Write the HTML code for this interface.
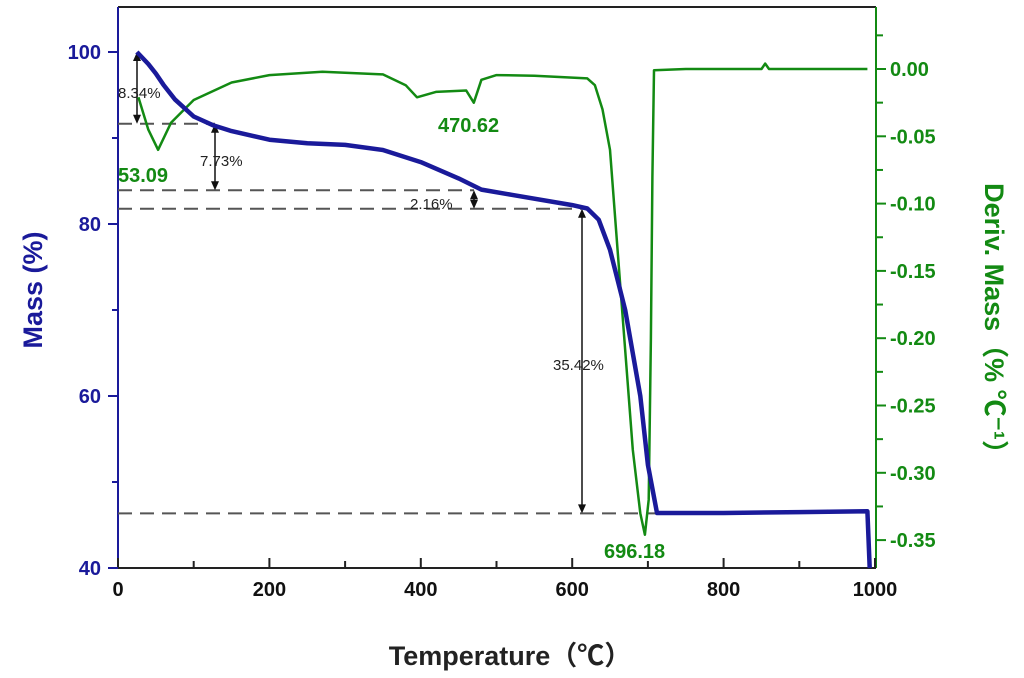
<!DOCTYPE html>
<html><head><meta charset="utf-8"><style>
body{margin:0;background:#fff}
svg{display:block;font-family:"Liberation Sans","Noto Sans CJK SC",sans-serif}
</style></head><body>
<svg id="c" width="1024" height="678" viewBox="0 0 1024 678">
<g id="g"></g>
</svg>
<script>
const temps=[25,40,50,60,75,100,125,150,200,250,300,350,400,450,480,520,600,620,635,650,670,690,700,712,800,900,990];
const mass=[100,98.6,97.5,96.2,94.5,92.5,91.5,90.8,89.8,89.4,89.2,88.6,87.2,85.3,84.0,83.4,82.2,81.8,80.5,77,70,60,52,46.4,46.4,46.5,46.6];
const dtgT=[27,40,53,70,100,150,200,270,350,380,395,420,460,470,480,500,550,620,630,640,650,665,680,690,696,701,704,706,708,750,850,855,860,990];
const dtg=[-0.021,-0.045,-0.060,-0.04,-0.023,-0.010,-0.0045,-0.002,-0.004,-0.012,-0.021,-0.017,-0.016,-0.025,-0.008,-0.0045,-0.005,-0.007,-0.012,-0.03,-0.06,-0.172,-0.283,-0.33,-0.346,-0.32,-0.2,-0.08,-0.001,0.0,0.0,0.004,0.0,0.0];
const xTicks=[0,200,400,600,800,1000];
const massTicks=[40,60,80,100];
const dTicks=[0.00,-0.05,-0.10,-0.15,-0.20,-0.25,-0.30,-0.35];
const levels=[91.66,83.93,81.77,46.35];
const steps=[{t:25,a:100,b:91.66,l:"8.34%"},{t:125,a:91.66,b:83.93,l:"7.73%"},{t:470,a:83.93,b:81.77,l:"2.16%"},{t:610,a:81.77,b:46.35,l:"35.42%"}];
const X=t=>118+t*0.757, Y=m=>568-(m-40)*8.6, D=d=>69-d*1346;
const g=document.getElementById('g');const NS='http://www.w3.org/2000/svg';
function el(tag,a,p){const e=document.createElementNS(NS,tag);for(const k in a)e.setAttribute(k,a[k]);(p||g).appendChild(e);return e;}
function txt(s,a){const e=el('text',a);e.textContent=s;return e;}
let e=el('line',{x1:118,y1:7,x2:876,y2:7,stroke:'#222','stroke-width':2});

e=el('line',{x1:118,y1:568,x2:876,y2:568,stroke:'#222','stroke-width':2});

e=el('line',{x1:118,y1:7,x2:118,y2:568,stroke:'#1a1a9a','stroke-width':2});

e=el('line',{x1:876,y1:7,x2:876,y2:568,stroke:'#138a13','stroke-width':2});

for(let t=0;t<=1000;t+=100){el('line',{x1:X(t),y1:568,x2:X(t),y2:t%200?561:558,stroke:'#222','stroke-width':2});}
xTicks.forEach(t=>{e=txt(t,{x:X(t),y:596,'text-anchor':'middle','font-size':20,'font-weight':'bold',fill:'#111'});
});
for(let m=40;m<=100;m+=10){el('line',{x1:118,y1:Y(m),x2:m%20?112:108,y2:Y(m),stroke:'#1a1a9a','stroke-width':2});}
massTicks.forEach(m=>{e=txt(m,{x:101,y:Y(m)+7,'text-anchor':'end','font-size':20,'font-weight':'bold',fill:'#1a1a9a'});
});
for(let i=-14;i<=1;i++){const d=i*0.025;el('line',{x1:876,y1:D(d),x2:i%2?883:886,y2:D(d),stroke:'#138a13','stroke-width':2});}
dTicks.forEach(d=>{e=txt(d.toFixed(2),{x:890,y:D(d)+7,'font-size':20,'font-weight':'bold',fill:'#138a13'});
});
const ends=[215,474,582,710];
levels.forEach((m,i)=>{e=el('line',{x1:118,y1:Y(m),x2:ends[i],y2:Y(m),stroke:'#555','stroke-width':2,'stroke-dasharray':'14,8'});
});
const ax=[137,215,474,582];
steps.forEach((s,i)=>{const x=ax[i],y1=Y(s.a),y2=Y(s.b);
el('line',{x1:x,y1:y1+4,x2:x,y2:y2-4,stroke:'#111','stroke-width':1.5});
el('path',{d:`M${x-4},${y1+9}L${x},${y1}L${x+4},${y1+9}Z`,fill:'#111'});
el('path',{d:`M${x-4},${y2-9}L${x},${y2}L${x+4},${y2-9}Z`,fill:'#111'});});
[[118,98,"8.34%"],[200,166,"7.73%"],[410,209,"2.16%"],[553,370,"35.42%"]].forEach(a=>{e=txt(a[2],{x:a[0],y:a[1],'font-size':15,fill:'#222'});
});
let p=temps.map((t,i)=>(i?'L':'M')+X(t).toFixed(1)+','+Y(mass[i]).toFixed(1)).join('');
p+='L'+X(993)+','+Y(40);
const dp=dtgT.map((t,i)=>(i?'L':'M')+X(t).toFixed(1)+','+D(dtg[i]).toFixed(1)).join('');
e=el('path',{d:dp,fill:'none',stroke:'#138a13','stroke-width':2.5,'stroke-linejoin':'round'});

e=el('path',{d:p,fill:'none',stroke:'#1a1a9a','stroke-width':4.5,'stroke-linejoin':'round'});

[[118,182,"53.09"],[438,132,"470.62"],[604,558,"696.18"]].forEach(a=>{e=txt(a[2],{x:a[0],y:a[1],'font-size':20,'font-weight':'bold',fill:'#138a13'});
});
e=txt("Temperature（℃）",{x:510,y:665,'text-anchor':'middle','font-size':27,'font-weight':'bold',fill:'#222'});

e=txt("Mass (%)",{x:0,y:0,transform:'translate(42,290) rotate(-90)','text-anchor':'middle','font-size':27,'font-weight':'bold',fill:'#1a1a9a'});

e=txt("Deriv. Mass（% ℃⁻¹）",{x:0,y:0,transform:'translate(985,325) rotate(90)','text-anchor':'middle','font-size':27,'font-weight':'bold',fill:'#138a13'});

</script>
</body></html>
